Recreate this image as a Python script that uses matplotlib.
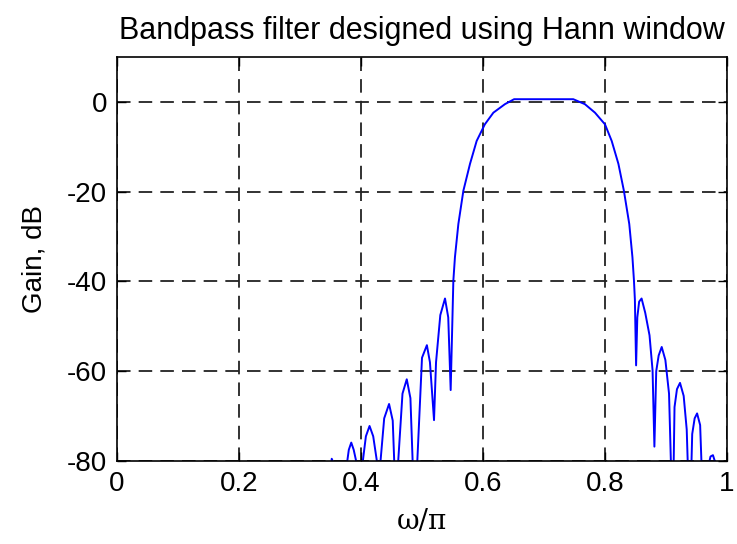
import numpy as np
import matplotlib.pyplot as plt

plt.rcParams['font.family'] = ['Liberation Sans', 'DejaVu Sans']
plt.rcParams['axes.unicode_minus'] = False

# Gain curve (normalised frequency, dB)
# values below -80 dB are nulls that fall out of the plot
w = [0.345, 0.350, 0.352, 0.355, 0.365, 0.3775, 0.380, 0.384, 0.388, 0.392,
     0.398, 0.403, 0.408, 0.414, 0.420, 0.426, 0.429,
     0.432, 0.438, 0.446, 0.452, 0.4585,
     0.461, 0.468, 0.475, 0.481, 0.4885,
     0.4923, 0.500, 0.508, 0.513, 0.5197,
     0.523, 0.530, 0.5377, 0.543, 0.547,
     0.5514, 0.554, 0.5596, 0.5678, 0.5787, 0.5896, 0.603, 0.617, 0.636,
     0.651, 0.700, 0.748,
     0.767, 0.7836, 0.800, 0.811, 0.822, 0.831, 0.8398, 0.845, 0.8475,
     0.849, 0.851, 0.853, 0.856, 0.860, 0.866, 0.873, 0.878, 0.881,
     0.884, 0.888, 0.893, 0.899, 0.905, 0.911,
     0.914, 0.918, 0.923, 0.929, 0.934, 0.939,
     0.943, 0.947, 0.951, 0.956, 0.962,
     0.968, 0.973, 0.977, 0.980, 0.983]
gain_db = [-95, -82, -79.5, -80.5, -95, -80, -77.5, -75.9, -77.5, -80,
           -95, -80, -74.5, -72.2, -74.5, -80, -95,
           -80, -70.5, -67.3, -71, -95,
           -80, -65, -61.8, -66, -95,
           -80, -57, -54.2, -58, -70.9,
           -58, -47.5, -43.8, -48, -64.2,
           -39.8, -34.6, -27.2, -19.8, -13.8, -8.7, -5.0, -2.4, -0.5,
           0.6, 0.6, 0.6,
           -0.5, -2.4, -5.0, -8.7, -13.8, -19.8, -27.2, -34.6, -39.8,
           -44, -58.7, -48, -44.5, -43.8, -47, -52, -59.8, -76.8,
           -60, -56.5, -54.6, -57.5, -65, -95,
           -68, -64, -62.6, -65.5, -73, -95,
           -74, -70.5, -69.4, -72, -95,
           -82, -79, -78.7, -80, -95]

fig = plt.figure(figsize=(7.37, 5.44), dpi=100)
ax = fig.add_axes([0.1588, 0.1526, 0.8276, 0.7426])

ax.plot(w, gain_db, color='#0000ff', linewidth=1.4)

ax.set_xlim(0, 1)
ax.set_ylim(-80, 10)
ax.set_xticks([0, 0.2, 0.4, 0.6, 0.8, 1])
ax.set_xticklabels(['0', '0.2', '0.4', '0.6', '0.8', '1'])
ax.set_yticks([-80, -60, -40, -20, 0])
ax.grid(True, color='#222222', linestyle=(0, (7.5, 4.5)), linewidth=1.3)
ax.tick_params(direction='in', top=True, right=True, labelsize=20,
               length=6.5, width=1, pad=7)
for s in ax.spines.values():
    s.set_linewidth(1.2)

ax.set_title('Bandpass filter designed using Hann window', fontsize=22, pad=13)
ax.set_xlabel('ω/π', fontsize=20, family=['DejaVu Serif'], labelpad=8)
ax.set_ylabel('Gain, dB', fontsize=20, labelpad=14)

fig.savefig('out.png', dpi=100)
